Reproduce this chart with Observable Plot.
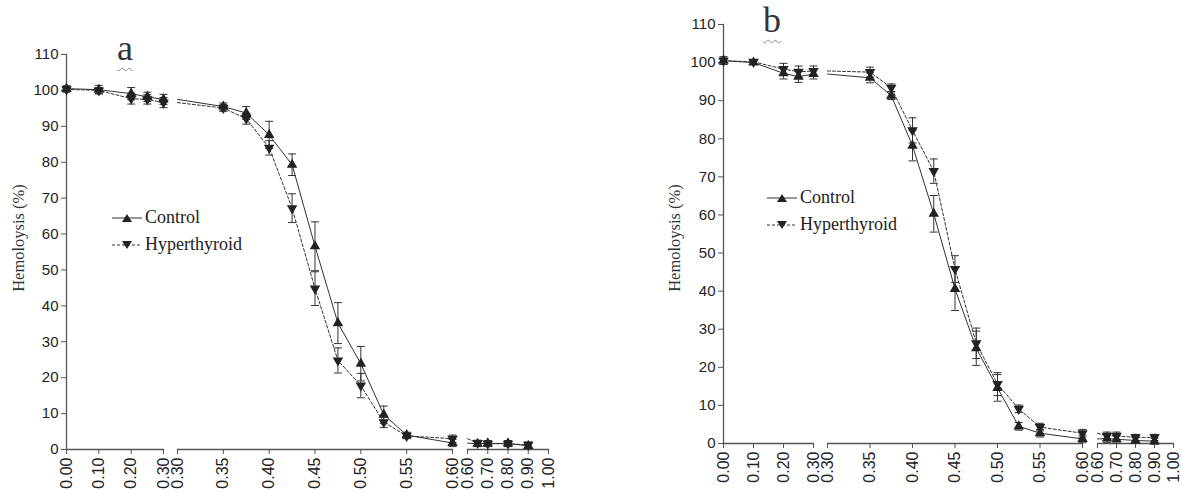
<!DOCTYPE html>
<html><head><meta charset="utf-8">
<script src="https://cdn.jsdelivr.net/npm/d3@7"></script>
<script src="https://cdn.jsdelivr.net/npm/@observablehq/plot@0.6"></script>
<style>
body{margin:0;background:#fff;}
#chart{position:relative;width:1181px;height:494px;overflow:hidden;font-family:"Liberation Sans",Arial,sans-serif;}
.panel{position:absolute;top:0;height:494px;}
.panel > svg{position:absolute;left:0;top:0;overflow:visible;background:transparent;}
.tag{position:absolute;font-family:"Liberation Serif","DejaVu Serif",serif;font-size:36px;color:#333;line-height:1;text-decoration:underline wavy #888;text-decoration-thickness:1px;text-underline-offset:7px;transform:translate(-50%,0);}
.ylab{position:absolute;font-family:"Liberation Serif","DejaVu Serif",serif;font-size:16.5px;color:#333;transform:translate(-50%,-50%) rotate(-90deg);white-space:nowrap;}
.legend{position:absolute;font-family:"Liberation Serif","DejaVu Serif",serif;font-size:18px;color:#222;}
.legend .row{display:flex;align-items:center;height:27px;}
.legend .row svg{position:static;margin-right:2px;}
</style></head>
<body><div id="chart"></div>
<script>
// ---------- data ----------
const series = ["Control", "Hyperthyroid"];
const concentrations = [0.00,0.10,0.20,0.25,0.30,0.35,0.375,0.40,0.425,0.45,0.475,0.50,0.525,0.55,0.60,0.65,0.70,0.80,0.90];

const controlA    = [100.5,100.2,99.1,98.2,97.5,95.5,93.7,87.6,79.3,56.6,35.2,23.9,9.7,4.0,1.8,1.6,1.7,1.7,1.0];
const controlAErr = [0.8,1.2,1.7,1.3,1.4,1.0,1.8,3.8,3.0,6.8,5.7,4.8,2.4,0.8,1.0,0.8,0.8,0.8,0.8];
const hyperA      = [100.3,100.0,97.7,97.5,96.6,95.1,92.1,84.0,67.2,44.8,24.8,17.8,7.6,3.8,3.0,1.8,1.6,1.6,1.3];
const hyperAErr   = [0.8,0.8,1.5,1.3,1.4,1.0,1.5,2.0,4.0,4.7,3.5,3.4,1.5,0.8,1.0,0.8,0.8,0.8,0.8];

const controlB    = [100.5,100.0,97.2,96.3,97.0,96.0,91.3,78.2,60.3,40.6,25.0,14.6,4.5,2.7,1.2,1.3,1.1,0.8,0.6];
const controlBErr = [1.0,0.5,1.5,1.5,1.3,1.3,1.0,4.0,4.8,5.7,4.5,3.5,1.0,1.0,1.0,1.0,1.0,0.8,0.8];
const hyperB      = [100.5,100.2,98.3,97.6,97.8,97.5,93.4,82.2,71.5,45.8,26.3,15.6,9.1,4.3,2.7,2.0,2.0,1.6,1.6];
const hyperBErr   = [1.0,0.5,1.5,1.5,1.3,1.3,1.0,3.3,3.2,3.5,4.0,3.0,1.0,1.0,1.0,1.0,1.0,0.8,0.8];

const segmentDomains = [[0.00,0.30],[0.30,0.60],[0.60,1.00]];
const segmentTicks = [
  [0.00,0.10,0.20,0.30],
  [0.30,0.35,0.40,0.45,0.50,0.55,0.60],
  [0.60,0.70,0.80,0.90,1.00]
];
const yTicks = [0,10,20,30,40,50,60,70,80,90,100,110];
const yLabel = "Hemoloysis (%)";
const panelTags = ["a","b"];

// ---------- helpers ----------
const triDown = {
  draw(ctx, size) {
    const s3 = Math.sqrt(3);
    const y = -Math.sqrt(size / (s3 * 3));
    ctx.moveTo(0, -y * 2);
    ctx.lineTo(-s3 * y, y);
    ctx.lineTo(s3 * y, y);
    ctx.closePath();
  }
};
const capSym = {
  draw(ctx, size) {
    const w = Math.sqrt(size / Math.PI);
    ctx.moveTo(-w, 0); ctx.lineTo(w, 0);
  }
};

function rowsFor(ctrl, ctrlErr, hyp, hypErr) {
  const out = [];
  concentrations.forEach((c, i) => {
    out.push({c, v: ctrl[i], e: ctrlErr[i], s: series[0]});
    out.push({c, v: hyp[i], e: hypErr[i], s: series[1]});
  });
  return out;
}

function segPlot(rows, segIndex, geom) {
  const [lo, hi] = segmentDomains[segIndex];
  const lineRows = rows.filter(d => d.c >= lo - 1e-9 && d.c <= hi + 1e-9);
  const markRows = lineRows.filter(d => segIndex === 0 ? true : d.c > lo + 1e-9);
  const ctrlLine = lineRows.filter(d => d.s === series[0]);
  const hypLine = lineRows.filter(d => d.s === series[1]);
  const ink = "#222";
  const marks = [
    Plot.frame({anchor: "bottom", stroke: "#555", strokeWidth: 1.3}),
    Plot.axisX({ticks: segmentTicks[segIndex], tickFormat: d3.format(".2f"), tickRotate: -90,
      tickSize: 5, tickPadding: 3, fontSize: 16, label: null, stroke: "#555"}),
    Plot.line(ctrlLine, {x: "c", y: "v", stroke: "#333", strokeWidth: 1}),
    Plot.line(hypLine, {x: "c", y: "v", stroke: "#333", strokeWidth: 1, strokeDasharray: "3,2"}),
    Plot.ruleX(markRows, {x: "c", y1: d => d.v - d.e, y2: d => d.v + d.e, stroke: "#333", strokeWidth: 1}),
    Plot.dot(markRows, {x: "c", y: d => d.v + d.e, symbol: capSym, r: 4, stroke: "#333", strokeWidth: 1, fill: "none"}),
    Plot.dot(markRows, {x: "c", y: d => d.v - d.e, symbol: capSym, r: 4, stroke: "#333", strokeWidth: 1, fill: "none"}),
    Plot.dot(markRows.filter(d => d.s === series[0]), {x: "c", y: "v", symbol: "triangle", r: 3.9, fill: ink, stroke: "none"}),
    Plot.dot(markRows.filter(d => d.s === series[1]), {x: "c", y: "v", symbol: triDown, r: 3.9, fill: ink, stroke: "none"})
  ];
  if (segIndex === 0) {
    marks.unshift(
      Plot.frame({anchor: "left", stroke: "#555", strokeWidth: 1.3}),
      Plot.axisY({ticks: yTicks, tickSize: 5, tickPadding: 3, fontSize: 15, label: null, stroke: "#555"})
    );
  }
  return Plot.plot({
    width: geom.width, height: 494,
    marginLeft: geom.ml[segIndex], marginRight: geom.width - geom.mr[segIndex],
    marginTop: geom.mt, marginBottom: geom.mb,
    style: {background: "transparent", color: "#222", fontFamily: "'Liberation Sans', Arial, sans-serif", overflow: "visible"},
    x: {domain: [lo, hi], axis: null},
    y: {domain: [0, 110], axis: null},
    marks
  });
}

function legendRow(label, dashed, down) {
  const row = document.createElement("div");
  row.className = "row";
  const tri = down ? "11,4 21,4 16,12" : "11,12 21,12 16,4";
  row.innerHTML = `<svg width="32" height="16"><line x1="1" y1="8" x2="31" y2="8" stroke="#333" stroke-width="1" ${dashed ? 'stroke-dasharray="3,2"' : ''}/><polygon points="${tri}" fill="#222"/></svg><span>${label}</span>`;
  return row;
}

// ---------- layout ----------
const chart = document.getElementById("chart");
const panels = [
  {left: 0, width: 600, ml: [66,177,467], mr: [163,452,548], mt: 54, mb: 45,
   rows: rowsFor(controlA, controlAErr, hyperA, hyperAErr),
   tag: {x: 125, y: 30}, ylab: {x: 19, y: 238}, legend: {x: 111, y: 204}},
  {left: 590, width: 591, ml: [133,237,507], mr: [223,492,583], mt: 24, mb: 51,
   rows: rowsFor(controlB, controlBErr, hyperB, hyperBErr),
   tag: {x: 182, y: 2}, ylab: {x: 85, y: 238}, legend: {x: 176, y: 184}}
];

panels.forEach((p, pi) => {
  const div = document.createElement("div");
  div.className = "panel";
  div.style.left = p.left + "px";
  div.style.width = p.width + "px";
  chart.appendChild(div);
  for (let s = 0; s < 3; s++) {
    const svg = segPlot(p.rows, s, p);
    div.appendChild(svg);
  }
  const tag = document.createElement("div");
  tag.className = "tag"; tag.textContent = panelTags[pi];
  tag.style.left = p.tag.x + "px"; tag.style.top = p.tag.y + "px";
  div.appendChild(tag);
  const yl = document.createElement("div");
  yl.className = "ylab"; yl.textContent = yLabel;
  yl.style.left = p.ylab.x + "px"; yl.style.top = p.ylab.y + "px";
  div.appendChild(yl);
  const lg = document.createElement("div");
  lg.className = "legend";
  lg.style.left = p.legend.x + "px"; lg.style.top = p.legend.y + "px";
  lg.appendChild(legendRow(series[0], false, false));
  lg.appendChild(legendRow(series[1], true, true));
  div.appendChild(lg);
});
</script></body></html>
